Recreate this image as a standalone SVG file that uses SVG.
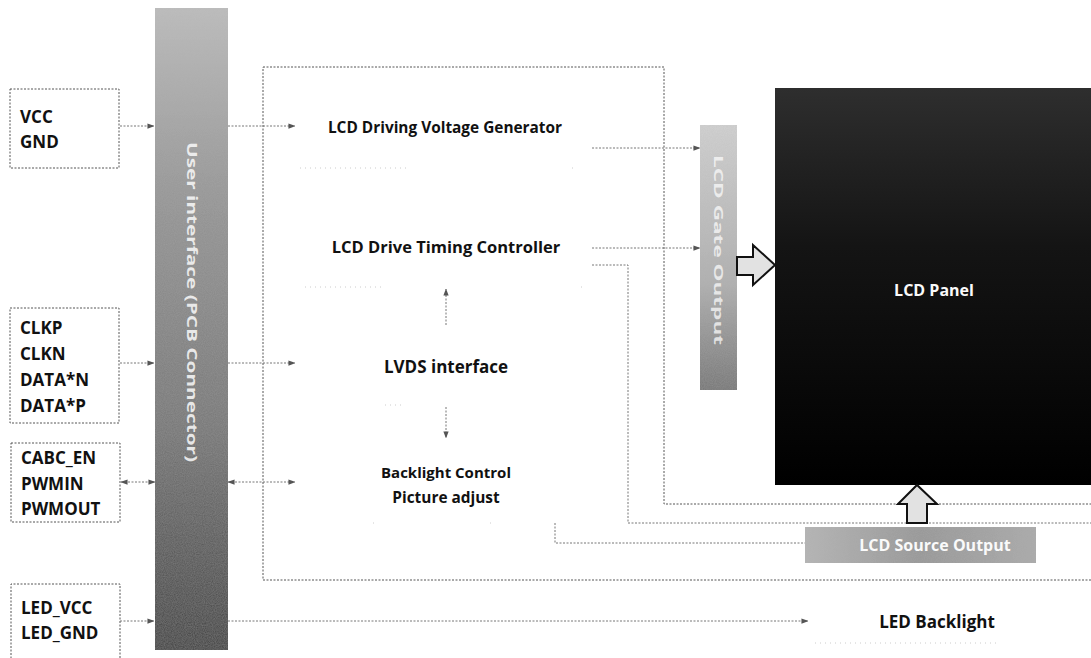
<svg xmlns="http://www.w3.org/2000/svg" width="1091" height="658" viewBox="0 0 1091 658">
<style>
.box{fill:#fff;stroke:#555;stroke-width:1;stroke-dasharray:2,1.5}
.pin{font-family:"Open Sans","Liberation Sans",sans-serif;font-weight:700;font-size:17px;fill:#111}
.lbl{font-family:"Open Sans","Liberation Sans",sans-serif;font-weight:700;fill:#111;text-anchor:middle}
.wlbl{font-family:"Open Sans","Liberation Sans",sans-serif;font-weight:700;fill:#fafafa;text-anchor:middle;dominant-baseline:central}
.con{fill:none;stroke:#777;stroke-width:1;stroke-dasharray:2,1.5}
.faint{fill:none;stroke:#ccc;stroke-width:1;stroke-dasharray:1,4}
.hollow{fill:#e2e2e2;stroke:#111;stroke-width:2;stroke-linejoin:miter}
</style>
<defs>
<marker id="arr" viewBox="0 0 8 8" refX="7.5" refY="4" markerWidth="7" markerHeight="7" markerUnits="userSpaceOnUse" orient="auto-start-reverse">
<path d="M0,1 L8,4 L0,7 Z" fill="#555"/>
</marker>
<linearGradient id="gConn" x1="0" y1="0" x2="0" y2="1">
<stop offset="0" stop-color="#bdbdbd"/>
<stop offset="0.3" stop-color="#959595"/>
<stop offset="0.65" stop-color="#767676"/>
<stop offset="1" stop-color="#3c3c3c"/>
</linearGradient>
<linearGradient id="gGate" x1="0" y1="0" x2="0" y2="1">
<stop offset="0" stop-color="#d2d2d2"/>
<stop offset="0.6" stop-color="#b0b0b0"/>
<stop offset="1" stop-color="#757575"/>
</linearGradient>
<linearGradient id="gPanel" x1="0" y1="0" x2="0" y2="1">
<stop offset="0" stop-color="#2e2e2e"/>
<stop offset="0.4" stop-color="#141414"/>
<stop offset="1" stop-color="#000"/>
</linearGradient>
<linearGradient id="gSrc" x1="0" y1="0" x2="1" y2="0">
<stop offset="0" stop-color="#b5b5b5"/>
<stop offset="0.5" stop-color="#979797"/>
<stop offset="1" stop-color="#aaa"/>
</linearGradient>
<filter id="grain" x="0" y="0" width="1" height="1">
<feTurbulence type="fractalNoise" baseFrequency="0.9" numOctaves="2" seed="3" result="n"/>
<feColorMatrix in="n" type="matrix" values="0 0 0 0 0.45  0 0 0 0 0.45  0 0 0 0 0.45  0 0 0 0.3 0" result="g"/>
<feComposite in="g" in2="SourceGraphic" operator="in" result="gc"/>
<feMerge><feMergeNode in="SourceGraphic"/><feMergeNode in="gc"/></feMerge>
</filter>
</defs>
<rect width="1091" height="658" fill="#fff"/>

<g id="main-frame">
<path class="box" d="M263,67 H664 V504 H1091 M1091,580 H263 V67" fill="none"/>
</g>

<g id="pcb-connector">
<rect x="155" y="8" width="73" height="642" fill="url(#gConn)" filter="url(#grain)"/>
<text class="wlbl" font-size="14" transform="translate(192,302) rotate(90)" textLength="320" lengthAdjust="spacingAndGlyphs" fill-opacity="0.85">User interface (PCB Connector)</text>
</g>

<g id="pins-power">
<rect class="box" x="10" y="89" width="109" height="79"/>
<text class="pin" x="20" y="123">VCC</text>
<text class="pin" x="20" y="148">GND</text>
</g>

<g id="pins-lvds">
<rect class="box" x="10" y="308" width="109" height="115"/>
<text class="pin" x="20" y="334">CLKP</text>
<text class="pin" x="20" y="360">CLKN</text>
<text class="pin" x="20" y="386">DATA*N</text>
<text class="pin" x="20" y="412">DATA*P</text>
</g>

<g id="pins-backlight">
<rect class="box" x="11" y="443" width="109" height="79"/>
<text class="pin" x="21" y="464">CABC_EN</text>
<text class="pin" x="21" y="490">PWMIN</text>
<text class="pin" x="21" y="515">PWMOUT</text>
</g>

<g id="pins-led">
<path class="box" d="M11,662 V584 H120 V662" fill="none"/>
<text class="pin" x="21" y="614">LED_VCC</text>
<text class="pin" x="21" y="639">LED_GND</text>
</g>

<g id="voltage-gen">
<text class="lbl" x="445" y="133" font-size="15.4">LCD Driving Voltage Generator</text>
<path class="faint" d="M300,168 H410 M572,168 H574"/>
</g>

<g id="timing-ctrl">
<text class="lbl" x="446" y="253" font-size="16.5">LCD Drive Timing Controller</text>
<path class="faint" d="M305,287 H385 M581,287 H583"/>
</g>

<g id="lvds">
<text class="lbl" x="446" y="373" font-size="17">LVDS interface</text>
<path class="faint" d="M385,405 H405"/>
</g>

<g id="backlight-ctrl">
<text class="lbl" x="446" y="478" font-size="15">Backlight Control</text>
<text class="lbl" x="446" y="503" font-size="15.4">Picture adjust</text>
<path class="faint" d="M373,523 H375 M490,523 H492"/>
</g>

<g id="gate-output">
<rect x="700" y="125" width="37" height="265" fill="url(#gGate)" filter="url(#grain)"/>
<text class="wlbl" font-size="13" transform="translate(719,250) rotate(90)" textLength="190" lengthAdjust="spacingAndGlyphs" fill-opacity="0.75">LCD Gate Output</text>
</g>

<g id="lcd-panel">
<rect x="775" y="88" width="316" height="397" fill="url(#gPanel)"/>
<text class="wlbl" x="934" y="290" font-size="16">LCD Panel</text>
</g>

<g id="source-output">
<rect x="805" y="527" width="231" height="36" fill="url(#gSrc)" filter="url(#grain)"/>
<text class="wlbl" x="935" y="545" font-size="16">LCD Source Output</text>
</g>

<g id="led-backlight">
<text class="lbl" x="937" y="628" font-size="17">LED Backlight</text>
<path class="faint" d="M815,643 H1000"/>
</g>

<g id="connectors">
<path class="con" d="M120,126 H154" marker-end="url(#arr)"/>
<path class="con" d="M228,126 H295" marker-end="url(#arr)"/>
<path class="con" d="M120,363 H154" marker-end="url(#arr)"/>
<path class="con" d="M228,363 H295" marker-end="url(#arr)"/>
<path class="con" d="M121,482 H155" marker-start="url(#arr)" marker-end="url(#arr)"/>
<path class="con" d="M228,482 H295" marker-start="url(#arr)" marker-end="url(#arr)"/>
<path class="con" d="M120,621 H154" marker-end="url(#arr)"/>
<path class="con" d="M228,621 H808" marker-end="url(#arr)"/>
<path class="con" d="M592,148 H700" marker-end="url(#arr)"/>
<path class="con" d="M592,248 H700" marker-end="url(#arr)"/>
<path class="con" d="M592,265 H628 V523 H1091"/>
<path class="con" d="M555,523 V543 H805"/>
<path class="con" d="M446,325 V289" marker-end="url(#arr)"/>
<path class="con" d="M446,407 V438" marker-end="url(#arr)"/>
<path class="hollow" d="M737,257 H753 V245 L775,265 L753,285 V275 H737 Z"/>
<path class="hollow" d="M907,523 V504 H898 L917,485 L937,504 H927 V523 Z"/>
</g>
</svg>
